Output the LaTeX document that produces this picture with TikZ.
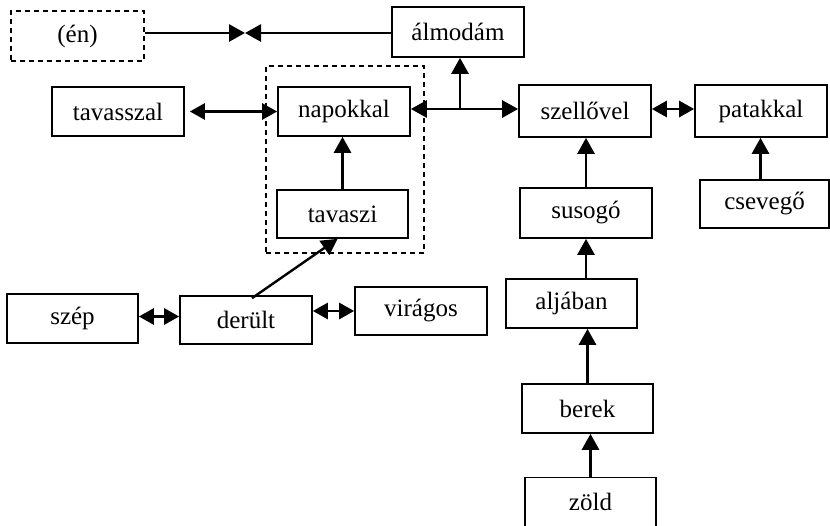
\documentclass[tikz,border=0pt]{standalone}
\usepackage{fontspec}
\setmainfont{Liberation Serif}
\usetikzlibrary{arrows.meta}
\begin{document}
\begin{tikzpicture}[x=1pt,y=-1pt,
  box/.style={draw, line width=1.7pt, minimum width=132pt, minimum height=49pt, inner sep=0pt, font=\fontsize{25}{28}\selectfont},
  dbox/.style={box, dash pattern=on 5pt off 4pt, line width=2.4pt},
  tip/.style={},
  arr/.style={-{Triangle[length=16pt,width=17pt]}, line width=2.8pt},
  darr/.style={{Triangle[length=15pt,width=16pt]}-{Triangle[length=15pt,width=16pt]}, line width=2.8pt}]
\useasboundingbox (0,0) rectangle (830,525);
% group box
\node[draw, dash pattern=on 5pt off 4pt, line width=2.4pt, minimum width=158pt, minimum height=187pt, inner sep=0pt] (grp) at (345,159.5) {};
% nodes
\node[dbox, minimum width=133pt, minimum height=50pt] (en) at (77.5,36) {(én)};
\node[box, minimum height=50pt] (almodam) at (458,32) {álmodám};
\node[box] (tavasszal) at (118,111.5) {tavasszal};
\node[box] (napokkal) at (344,111.5) {napokkal};
\node[box, minimum height=52pt] (szellovel) at (585,111) {szellővel};
\node[box, minimum height=52pt] (patakkal) at (761,111) {patakkal};
\node[box, minimum width=129pt, minimum height=48pt] (csevego) at (764.5,204) {csevegő};
\node[box, minimum height=50pt] (susogo) at (586,213) {susogó};
\node[box, minimum width=131pt] (aljaban) at (571.5,303.5) {aljában};
\node[box, minimum width=131pt] (berek) at (587.5,408.5) {berek};
\node[box, minimum width=131pt] (zold) at (590.5,502) {zöld};
\node[box, minimum width=131pt, minimum height=48pt] (tavaszi) at (342.5,214) {tavaszi};
\node[box, minimum width=131pt] (szep) at (72.5,318.5) {szép};
\node[box, minimum height=48pt] (derult) at (246,320) {derült};
\node[box, minimum height=48pt] (viragos) at (421,311) {virágos};
% connectors
\coordinate (m1) at (245,33);
\draw[arr] (en.east |- m1) -- (m1);
\draw[arr] (almodam.west |- m1) -- (m1);
\draw[darr, shorten <=5pt] (tavasszal.east) -- (napokkal.west);
\coordinate (j) at (460,109);
\draw[arr] (j) -- (napokkal.east |- j);
\draw[arr] (j) -- (szellovel.west |- j);
\draw[arr] (j) -- (almodam.south -| j);
\draw[darr] (szellovel.east |- j) -- (patakkal.west |- j);
\draw[arr] ([xshift=-4pt]csevego.north) -- ([xshift=-4pt]csevego.north |- patakkal.south);
\draw[arr] (susogo.north) -- (susogo.north |- szellovel.south);
\draw[arr] (susogo.south |- aljaban.north) -- (susogo.south);
\draw[arr] (berek.north) -- (berek.north |- aljaban.south);
\draw[arr] (zold.north) -- (zold.north |- berek.south);
\draw[arr] (tavaszi.north) -- (tavaszi.north |- napokkal.south);
\draw[arr, line width=2.4pt] ([xshift=6pt,yshift=-3pt]derult.north) -- ([xshift=-5pt]tavaszi.south);
\draw[darr] (szep.east) ++(0,-2) coordinate (s1) (s1) -- (derult.west |- s1);
\draw[darr] (derult.east |- viragos.west) -- (viragos.west);
\end{tikzpicture}
\end{document}
